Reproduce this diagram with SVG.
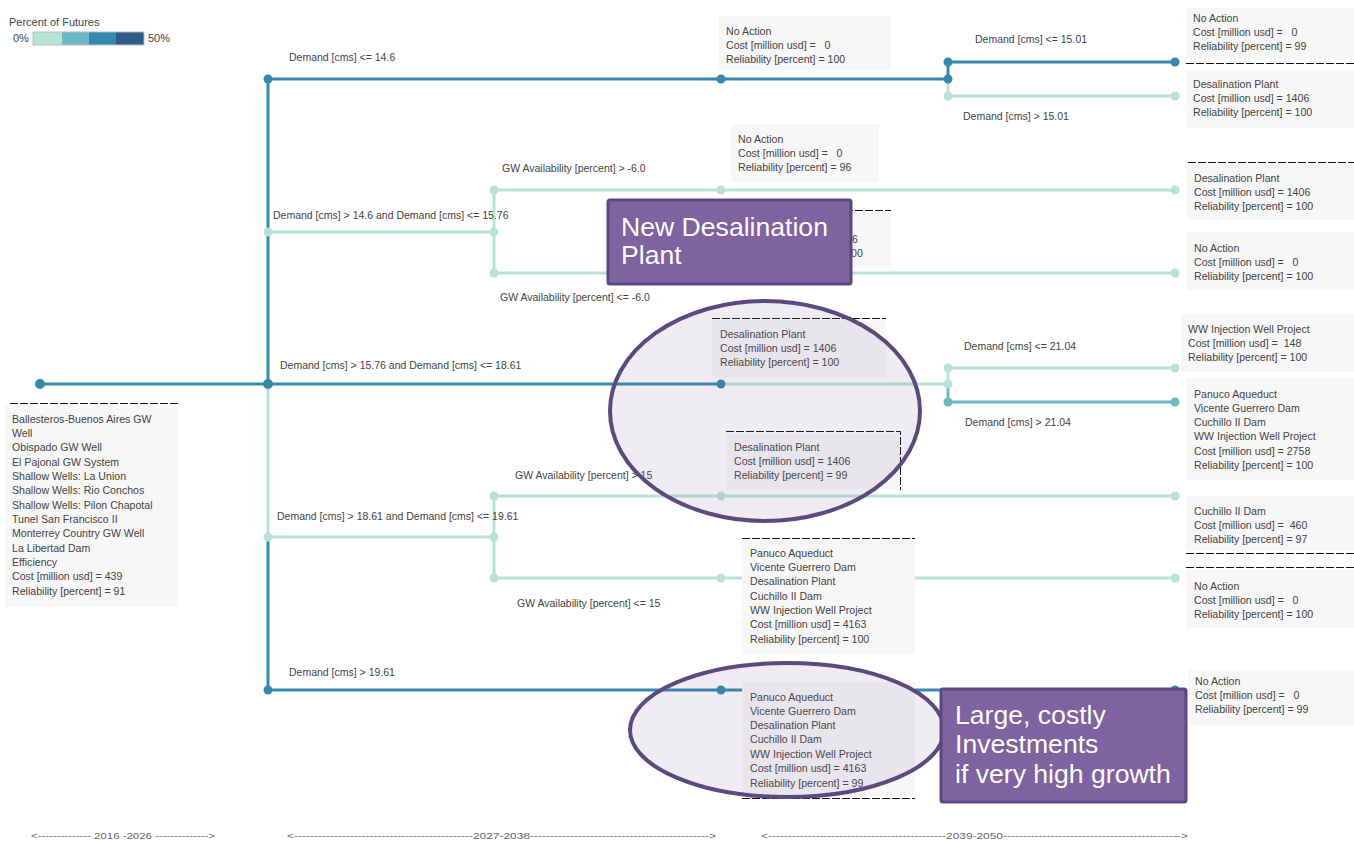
<svg xmlns="http://www.w3.org/2000/svg" width="1354" height="844" viewBox="0 0 1354 844">
  <style>
    text { font-family: "Liberation Sans", Arial, sans-serif; fill: #444; white-space: pre; }
    .t { font-size: 10.6px; }
    .lbl { font-size: 10.5px; }
    .axis { font-size: 9px; fill: #666; }
    .box { fill: #f7f7f7; }
    .dash { stroke: #111; stroke-width: 1; stroke-dasharray: 8 2; fill: none; }
    .dk { stroke: #3589ad; stroke-width: 3; fill: none; }
    .lt { stroke: #b7e3d7; stroke-width: 3; fill: none; }
    .md { stroke: #6db8c4; stroke-width: 3; fill: none; }
    .ddk { fill: #3589ad; }
    .dlt { fill: #b7e3d7; }
    .dmd { fill: #6db8c4; }
    .ring { fill: #7f62a0; fill-opacity: 0.12; stroke: #5b4a7e; stroke-width: 4; }
    .callout { fill: #7f62a0; stroke: #5a4880; stroke-width: 3; }
    .ct { font-size: 26.6px; fill: #ffffff; }
  </style>

  <!-- legend -->
  <g id="legend">
    <text x="9" y="26" style="font-size:11px">Percent of Futures</text>
    <text x="13" y="42" style="font-size:11px">0%</text>
    <rect x="33" y="32" width="29" height="13" fill="#b7e3d7"/>
    <rect x="62" y="32" width="27" height="13" fill="#6db8c4"/>
    <rect x="89" y="32" width="27" height="13" fill="#3589ad"/>
    <rect x="116" y="32" width="28" height="13" fill="#2d5c8a"/>
    <rect x="33" y="32" width="111" height="13" fill="none" stroke="#bbb" stroke-width="1"/>
    <text x="148" y="42" style="font-size:11px">50%</text>
  </g>

  <!-- connectors -->
  <g id="connectors">
    <!-- root trunk -->
    <line class="dk" x1="40" y1="384" x2="268" y2="384"/>
    <line class="dk" x1="268" y1="79" x2="268" y2="384"/>
    <line class="lt" x1="268" y1="384" x2="268" y2="537"/>
    <line class="dk" x1="268" y1="537" x2="268" y2="690"/>

    <!-- branch 1 -->
    <line class="dk" x1="268" y1="79" x2="948" y2="79"/>
    <line class="dk" x1="948" y1="62" x2="948" y2="79"/>
    <line class="lt" x1="948" y1="79" x2="948" y2="96"/>
    <line class="dk" x1="948" y1="62" x2="1175" y2="62"/>
    <line class="lt" x1="948" y1="96" x2="1175" y2="96"/>

    <!-- branch 2 -->
    <line class="lt" x1="268" y1="232" x2="494" y2="232"/>
    <line class="lt" x1="494" y1="190" x2="494" y2="273"/>
    <line class="lt" x1="494" y1="190" x2="1175" y2="190"/>
    <line class="lt" x1="494" y1="273" x2="1175" y2="273"/>

    <!-- branch 3 -->
    <line class="dk" x1="268" y1="384" x2="721" y2="384"/>
    <line class="lt" x1="721" y1="384" x2="948" y2="384"/>
    <line class="lt" x1="948" y1="368" x2="948" y2="385"/>
    <line class="md" x1="948" y1="385" x2="948" y2="402"/>
    <line class="lt" x1="948" y1="368" x2="1175" y2="368"/>
    <line class="md" x1="948" y1="402" x2="1175" y2="402"/>

    <!-- branch 4 -->
    <line class="lt" x1="268" y1="537" x2="494" y2="537"/>
    <line class="lt" x1="494" y1="496" x2="494" y2="578"/>
    <line class="lt" x1="494" y1="496" x2="1175" y2="496"/>
    <line class="lt" x1="494" y1="578" x2="1175" y2="578"/>

    <!-- branch 5 -->
    <line class="dk" x1="268" y1="690" x2="1175" y2="690"/>

    <!-- dots -->
    <circle class="ddk" cx="40" cy="384" r="5"/>
    <circle class="ddk" cx="268" cy="384" r="5"/>
    <circle class="ddk" cx="268" cy="79" r="4.5"/>
    <circle class="dlt" cx="268" cy="232" r="4.5"/>
    <circle class="dlt" cx="268" cy="537" r="4.5"/>
    <circle class="ddk" cx="268" cy="690" r="4.5"/>
    <circle class="ddk" cx="721" cy="79" r="4.5"/>
    <circle class="ddk" cx="948" cy="79" r="4.5"/>
    <circle class="ddk" cx="948" cy="62" r="4.5"/>
    <circle class="dlt" cx="948" cy="96" r="4.5"/>
    <circle class="ddk" cx="1175" cy="62" r="4.5"/>
    <circle class="dlt" cx="1175" cy="96" r="4.5"/>
    <circle class="dlt" cx="494" cy="232" r="4.5"/>
    <circle class="dlt" cx="494" cy="190" r="4.5"/>
    <circle class="dlt" cx="494" cy="273" r="4.5"/>
    <circle class="dlt" cx="721" cy="190" r="4.5"/>
    <circle class="dlt" cx="721" cy="273" r="4.5"/>
    <circle class="dlt" cx="1175" cy="190" r="4.5"/>
    <circle class="dlt" cx="1175" cy="273" r="4.5"/>
    <circle class="ddk" cx="721" cy="384" r="4.5"/>
    <circle class="dlt" cx="948" cy="384" r="4.5"/>
    <circle class="dlt" cx="948" cy="368" r="4.5"/>
    <circle class="dmd" cx="948" cy="402" r="4.5"/>
    <circle class="dlt" cx="1175" cy="368" r="4.5"/>
    <circle class="dmd" cx="1175" cy="402" r="4.5"/>
    <circle class="dlt" cx="494" cy="537" r="4.5"/>
    <circle class="dlt" cx="494" cy="496" r="4.5"/>
    <circle class="dlt" cx="494" cy="578" r="4.5"/>
    <circle class="dlt" cx="721" cy="496" r="4.5"/>
    <circle class="dlt" cx="721" cy="578" r="4.5"/>
    <circle class="dlt" cx="1175" cy="496" r="4.5"/>
    <circle class="dlt" cx="1175" cy="578" r="4.5"/>
    <circle class="ddk" cx="721" cy="690" r="4.5"/>
    <circle class="ddk" cx="1175" cy="690" r="4.5"/>
  </g>

  <!-- split labels -->
  <g id="split-labels">
    <text class="lbl" x="289" y="61">Demand [cms] &lt;= 14.6</text>
    <text class="lbl" x="975" y="43">Demand [cms] &lt;= 15.01</text>
    <text class="lbl" x="963" y="120">Demand [cms] &gt; 15.01</text>
    <text class="lbl" x="273" y="219">Demand [cms] &gt; 14.6 and Demand [cms] &lt;= 15.76</text>
    <text class="lbl" x="502" y="172">GW Availability [percent] &gt; -6.0</text>
    <text class="lbl" x="500" y="301">GW Availability [percent] &lt;= -6.0</text>
    <text class="lbl" x="280" y="369">Demand [cms] &gt; 15.76 and Demand [cms] &lt;= 18.61</text>
    <text class="lbl" x="964" y="350">Demand [cms] &lt;= 21.04</text>
    <text class="lbl" x="965" y="426">Demand [cms] &gt; 21.04</text>
    <text class="lbl" x="277" y="520">Demand [cms] &gt; 18.61 and Demand [cms] &lt;= 19.61</text>
    <text class="lbl" x="515" y="479">GW Availability [percent] &gt; 15</text>
    <text class="lbl" x="517" y="607">GW Availability [percent] &lt;= 15</text>
    <text class="lbl" x="289" y="676">Demand [cms] &gt; 19.61</text>
  </g>

  <!-- root node -->
  <g id="node-root">
    <line class="dash" x1="10" y1="403.5" x2="178" y2="403.5"/>
    <rect class="box" x="5" y="405" width="173" height="202"/>
    <text class="t" x="12" y="423">Ballesteros-Buenos Aires GW</text>
    <text class="t" x="12" y="437">Well</text>
    <text class="t" x="12" y="451">Obispado GW Well</text>
    <text class="t" x="12" y="466">El Pajonal GW System</text>
    <text class="t" x="12" y="480">Shallow Wells: La Union</text>
    <text class="t" x="12" y="494">Shallow Wells: Rio Conchos</text>
    <text class="t" x="12" y="509">Shallow Wells: Pilon Chapotal</text>
    <text class="t" x="12" y="523">Tunel San Francisco II</text>
    <text class="t" x="12" y="537">Monterrey Country GW Well</text>
    <text class="t" x="12" y="552">La Libertad Dam</text>
    <text class="t" x="12" y="566">Efficiency</text>
    <text class="t" x="12" y="580">Cost [million usd] = 439</text>
    <text class="t" x="12" y="595">Reliability [percent] = 91</text>
  </g>

  <!-- 2027-2038 nodes -->
  <g id="node-b1">
    <rect class="box" x="719" y="16" width="172" height="54"/>
    <text class="t" x="726" y="35">No Action</text>
    <text class="t" x="726" y="49">Cost [million usd] =   0</text>
    <text class="t" x="726" y="63">Reliability [percent] = 100</text>
  </g>
  <g id="node-b2a">
    <rect class="box" x="731" y="124" width="148" height="58"/>
    <text class="t" x="738" y="143">No Action</text>
    <text class="t" x="738" y="157">Cost [million usd] =   0</text>
    <text class="t" x="738" y="171">Reliability [percent] = 96</text>
  </g>
  <!-- mostly covered by the desalination callout; only the line ends show -->
  <g id="node-b2b">
    <line class="dash" x1="735" y1="210.5" x2="891" y2="210.5"/>
    <rect class="box" x="735" y="212" width="156" height="56"/>
    <text class="t" x="852" y="243">6</text>
    <text class="t" x="851" y="257">00</text>
  </g>
  <g id="node-b3">
    <line class="dash" x1="712" y1="318.5" x2="886" y2="318.5"/>
    <rect class="box" x="712" y="320" width="174" height="58"/>
    <text class="t" x="720" y="338">Desalination Plant</text>
    <text class="t" x="720" y="352">Cost [million usd] = 1406</text>
    <text class="t" x="720" y="366">Reliability [percent] = 100</text>
  </g>
  <g id="node-b4a">
    <rect class="box" x="726" y="433" width="174" height="57"/>
    <path class="dash" d="M726,431.5 H900.5 V490"/>
    <text class="t" x="734" y="451">Desalination Plant</text>
    <text class="t" x="734" y="465">Cost [million usd] = 1406</text>
    <text class="t" x="734" y="479">Reliability [percent] = 99</text>
  </g>
  <g id="node-b4b">
    <line class="dash" x1="742" y1="538.5" x2="915" y2="538.5"/>
    <rect class="box" x="742" y="540" width="173" height="114"/>
    <text class="t" x="750" y="557">Panuco Aqueduct</text>
    <text class="t" x="750" y="571">Vicente Guerrero Dam</text>
    <text class="t" x="750" y="585">Desalination Plant</text>
    <text class="t" x="750" y="600">Cuchillo II Dam</text>
    <text class="t" x="750" y="614">WW Injection Well Project</text>
    <text class="t" x="750" y="628">Cost [million usd] = 4163</text>
    <text class="t" x="750" y="643">Reliability [percent] = 100</text>
  </g>
  <g id="node-b5">
    <rect class="box" x="742" y="682" width="173" height="114"/>
    <line class="dash" x1="742" y1="798.5" x2="915" y2="798.5"/>
    <text class="t" x="750" y="701">Panuco Aqueduct</text>
    <text class="t" x="750" y="715">Vicente Guerrero Dam</text>
    <text class="t" x="750" y="729">Desalination Plant</text>
    <text class="t" x="750" y="743">Cuchillo II Dam</text>
    <text class="t" x="750" y="758">WW Injection Well Project</text>
    <text class="t" x="750" y="772">Cost [million usd] = 4163</text>
    <text class="t" x="750" y="787">Reliability [percent] = 99</text>
  </g>

  <!-- 2039-2050 leaves -->
  <g id="leaf-1">
    <rect class="box" x="1186" y="8" width="168" height="52"/>
    <text class="t" x="1193" y="22">No Action</text>
    <text class="t" x="1193" y="36">Cost [million usd] =   0</text>
    <text class="t" x="1193" y="50">Reliability [percent] = 99</text>
    <line class="dash" x1="1186" y1="63.5" x2="1354" y2="63.5"/>
  </g>
  <g id="leaf-2">
    <rect class="box" x="1186" y="70" width="168" height="58"/>
    <text class="t" x="1193" y="88">Desalination Plant</text>
    <text class="t" x="1193" y="102">Cost [million usd] = 1406</text>
    <text class="t" x="1193" y="116">Reliability [percent] = 100</text>
  </g>
  <g id="leaf-3">
    <line class="dash" x1="1188" y1="162.5" x2="1354" y2="162.5"/>
    <rect class="box" x="1187" y="164" width="167" height="56"/>
    <text class="t" x="1194" y="182">Desalination Plant</text>
    <text class="t" x="1194" y="196">Cost [million usd] = 1406</text>
    <text class="t" x="1194" y="210">Reliability [percent] = 100</text>
  </g>
  <g id="leaf-4">
    <rect class="box" x="1187" y="232" width="167" height="58"/>
    <text class="t" x="1194" y="252">No Action</text>
    <text class="t" x="1194" y="266">Cost [million usd] =   0</text>
    <text class="t" x="1194" y="280">Reliability [percent] = 100</text>
  </g>
  <g id="leaf-5">
    <rect class="box" x="1181" y="314" width="173" height="58"/>
    <text class="t" x="1188" y="333">WW Injection Well Project</text>
    <text class="t" x="1188" y="347">Cost [million usd] =  148</text>
    <text class="t" x="1188" y="361">Reliability [percent] = 100</text>
  </g>
  <g id="leaf-6">
    <rect class="box" x="1186" y="378" width="168" height="102"/>
    <text class="t" x="1194" y="398">Panuco Aqueduct</text>
    <text class="t" x="1194" y="412">Vicente Guerrero Dam</text>
    <text class="t" x="1194" y="426">Cuchillo II Dam</text>
    <text class="t" x="1194" y="440">WW Injection Well Project</text>
    <text class="t" x="1194" y="455">Cost [million usd] = 2758</text>
    <text class="t" x="1194" y="469">Reliability [percent] = 100</text>
  </g>
  <g id="leaf-7">
    <rect class="box" x="1186" y="496" width="168" height="55"/>
    <text class="t" x="1194" y="515">Cuchillo II Dam</text>
    <text class="t" x="1194" y="529">Cost [million usd] =  460</text>
    <text class="t" x="1194" y="543">Reliability [percent] = 97</text>
    <line class="dash" x1="1186" y1="553.5" x2="1354" y2="553.5"/>
  </g>
  <g id="leaf-8">
    <line class="dash" x1="1186" y1="567.5" x2="1354" y2="567.5"/>
    <rect class="box" x="1186" y="569" width="168" height="59"/>
    <text class="t" x="1194" y="590">No Action</text>
    <text class="t" x="1194" y="604">Cost [million usd] =   0</text>
    <text class="t" x="1194" y="618">Reliability [percent] = 100</text>
  </g>
  <g id="leaf-9">
    <rect class="box" x="1188" y="670" width="166" height="55"/>
    <text class="t" x="1195" y="685">No Action</text>
    <text class="t" x="1195" y="699">Cost [million usd] =   0</text>
    <text class="t" x="1195" y="713">Reliability [percent] = 99</text>
  </g>

  <!-- highlight annotations -->
  <g id="annotation-ring-1">
    <ellipse class="ring" cx="765" cy="411" rx="155" ry="110"/>
  </g>
  <g id="annotation-ring-2">
    <ellipse class="ring" cx="787" cy="730" rx="157" ry="67"/>
  </g>
  <g id="callout-desal">
    <rect class="callout" x="608" y="200" width="243" height="84" rx="2"/>
    <text class="ct" x="621" y="236">New Desalination</text>
    <text class="ct" x="621" y="264">Plant</text>
  </g>
  <g id="callout-growth">
    <rect class="callout" x="941" y="689" width="245" height="113" rx="2"/>
    <text class="ct" x="955" y="724">Large, costly</text>
    <text class="ct" x="955" y="753">Investments</text>
    <text class="ct" x="955" y="783">if very high growth</text>
  </g>

  <!-- time axis -->
  <g id="time-axis">
    <text class="axis" x="31" y="839" textLength="184" lengthAdjust="spacingAndGlyphs">&lt;-------------- 2016 -2026 --------------&gt;</text>
    <text class="axis" x="287" y="839" textLength="429" lengthAdjust="spacingAndGlyphs">&lt;---------------------------------------------2027-2038---------------------------------------------&gt;</text>
    <text class="axis" x="761" y="839" textLength="427" lengthAdjust="spacingAndGlyphs">&lt;---------------------------------------------2039-2050---------------------------------------------&gt;</text>
  </g>
</svg>
